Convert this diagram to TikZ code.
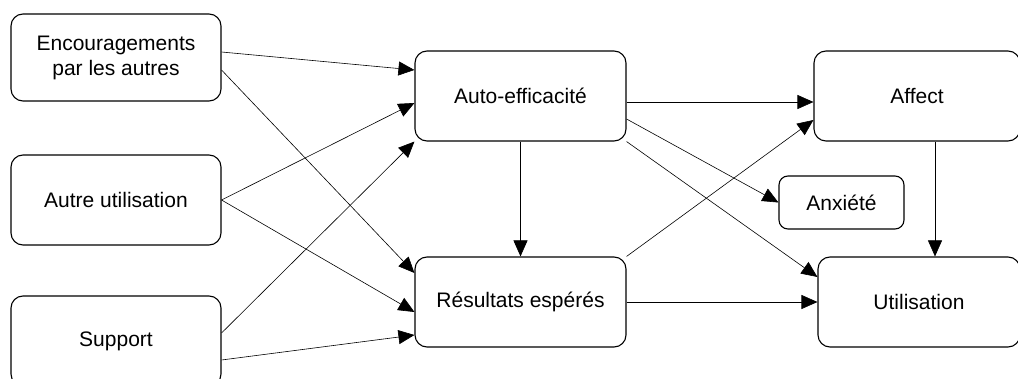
\documentclass[tikz,border=0pt]{standalone}
\usepackage{fontspec}
\setmainfont{Liberation Sans}
\usetikzlibrary{arrows.meta}

\begin{document}
\begin{tikzpicture}[x=1pt, y=-1pt,
    box/.style={draw, line width=1.1pt, rounded corners=12pt, align=center,
      font=\fontsize{21}{25}\selectfont, inner sep=0pt},
    link/.style={line width=0.6pt, -{Triangle[length=16pt,width=14pt]}}]
      \useasboundingbox (0, 0) rectangle (1018, 379);
      % left column
      \node[box, minimum width=210pt, minimum height=87pt] (enc) at (116, 57.5)
        {Encouragements\\par les autres};
      \node[box, minimum width=210pt, minimum height=90pt] (autre) at (116, 200)
        {Autre utilisation};
      \node[box, minimum width=210pt, minimum height=90pt] (support) at (116, 341)
        {Support};
      % middle column
      \node[box, minimum width=211pt, minimum height=90pt] (auto) at (520.5, 96)
        {Auto-efficacit\'e};
      \node[box, minimum width=211pt, minimum height=90pt] (res) at (520.5, 302)
        {R\'esultats esp\'er\'es};
      % right column
      \node[box, minimum width=206pt, minimum height=90pt] (affect) at (917, 96)
        {Affect};
      \node[box, minimum width=125pt, minimum height=53pt, rounded corners=9pt] (anx)
        at (841.5, 202.5) {Anxi\'et\'e};
      \node[box, minimum width=202pt, minimum height=90pt] (util) at (919, 302)
        {Utilisation};
      % arrows
      \draw[link] ([yshift=5.5pt]enc.east) -- ([yshift=26pt]auto.west);
      \draw[link] ([yshift=-12.5pt]enc.east) -- ([yshift=29pt]res.west);
      \draw[link] (autre.east) -- ([yshift=-7pt]auto.west);
      \draw[link] (autre.east) -- ([yshift=-10pt]res.west);
      \draw[link] ([yshift=8pt]support.east) -- (auto.south west);
      \draw[link] ([yshift=-19pt]support.east) -- ([yshift=-33pt]res.west);
      \draw[link] (auto.south) -- (res.north);
      \draw[link] ([yshift=-6pt]auto.east) -- ([yshift=-6pt]affect.west);
      \draw[link] ([yshift=-23pt]auto.east) -- (anx.west);
      \draw[link] (auto.south east) -- ([yshift=25pt]util.west);
      \draw[link] (res.north east) -- ([yshift=-24pt]affect.west);
      \draw[link] (res.east) -- (util.west);
      \draw[link] ([xshift=18pt]affect.south) -- ([xshift=18pt]affect.south |- util.north);
    \end{tikzpicture}
\end{document}
